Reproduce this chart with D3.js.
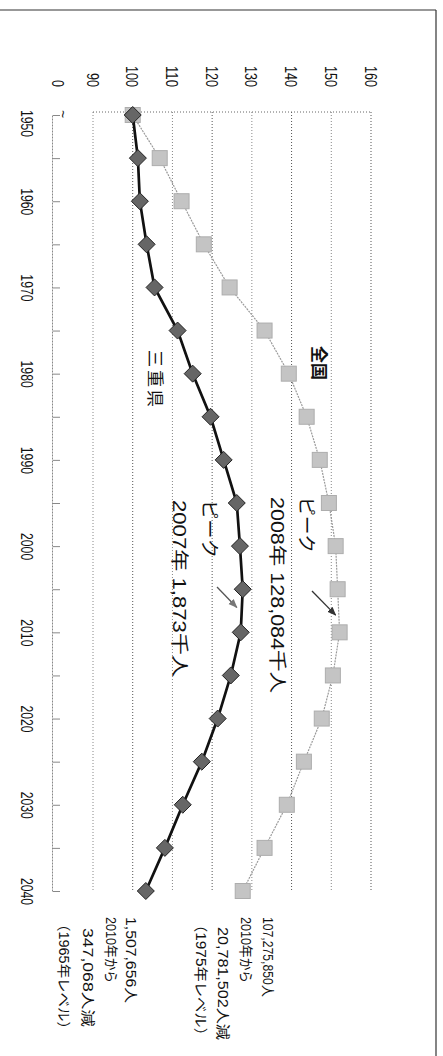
<!DOCTYPE html>
<html>
<head>
<meta charset="utf-8">
<script src="https://cdn.jsdelivr.net/npm/d3@7"></script>
<style>
body { margin: 0; background: #fff; }
text { font-family: "Liberation Sans", "Noto Sans CJK JP", sans-serif; fill: #111; }
</style>
</head>
<body>
<div id="chart"></div>
<script>
// population index (1950 = 100)
var years = [1950, 1955, 1960, 1965, 1970, 1975, 1980, 1985, 1990, 1995,
             2000, 2005, 2010, 2015, 2020, 2025, 2030, 2035, 2040];
var zenkoku = [100, 106.8, 112.3, 117.9, 124.4, 133.2, 139.3, 143.8, 147.1, 149.4,
               151.1, 151.6, 152.1, 150.4, 147.6, 143.1, 138.8, 133.2, 127.7];
var mie = [100, 101.3, 101.8, 103.5, 105.5, 111.3, 115.1, 119.6, 122.9, 126.2,
           127.0, 127.7, 127.2, 124.7, 121.4, 117.4, 112.6, 108.1, 103.3];

var valueTicks = [0, 90, 100, 110, 120, 130, 140, 150, 160];
var gridValues = [90, 100, 110, 120, 130, 140, 150, 160];
var yearTicks = [1950, 1960, 1970, 1980, 1990, 2000, 2010, 2020, 2030, 2040];

var zenkokuNotes = ["107,275,850人", "2010年から", "20,781,502人減", "（1975年レベル）"];
var mieNotes = ["1,507,656人", "2010年から", "347,068人減", "（1965年レベル）"];

// the picture is the chart turned a quarter turn clockwise,
// so draw it flat (W x H) and rotate the group
var svgWidth = 443, svgHeight = 1056;
var W = svgHeight, H = svgWidth;

var svg = d3.select("#chart").append("svg")
    .attr("width", svgWidth)
    .attr("height", svgHeight);

var g = svg.append("g")
    .attr("transform", `translate(${svgWidth},0) rotate(90)`);

var plotLeft = 112, plotRight = 891, axisY = 390;

var x = d3.scaleLinear().domain([1950, 2040]).range([115, 891]);
// broken value axis: 0 sits just under 90
var y = d3.scaleLinear().domain([0, 90, 160]).range([axisY, 350, 72]);

// narrow, tall glyphs like the scanned original
function squeeze(sel, perChar) {
    sel.attr("lengthAdjust", "spacingAndGlyphs")
        .attr("textLength", function() { return this.textContent.length * perChar; });
}

// outer frame
g.append("line").attr("x1", 10).attr("x2", 10).attr("y1", 7).attr("y2", H)
    .attr("stroke", "#333").attr("stroke-width", 1.2);
g.append("line").attr("x1", 10).attr("x2", W).attr("y1", 7).attr("y2", 7)
    .attr("stroke", "#333").attr("stroke-width", 1.2);

// gridlines
g.append("g").selectAll("line")
    .data(gridValues)
    .enter()
    .append("line")
    .attr("x1", plotLeft).attr("x2", plotRight)
    .attr("y1", d => y(d)).attr("y2", d => y(d))
    .attr("stroke", (d, i) => i % 2 ? "#555" : "#888")
    .attr("stroke-width", 1)
    .attr("stroke-dasharray", "1,2");

// value axis line
g.append("line")
    .attr("x1", plotLeft).attr("x2", plotLeft)
    .attr("y1", y(90)).attr("y2", y(160))
    .attr("stroke", "#666").attr("stroke-dasharray", "1,2");

// value tick labels
var yAxis = g.append("g")
    .attr("transform", `translate(${plotLeft},0)`)
    .call(d3.axisLeft(y).tickValues(valueTicks).tickSize(0).tickPadding(25));
yAxis.select(".domain").remove();
yAxis.selectAll("text")
    .style("font-size", "17px")
    .attr("dy", d => d === 0 ? "0.05em" : "0.35em")
    .call(squeeze, 7);

// category axis
var xAxis = g.append("g")
    .attr("transform", `translate(0,${axisY})`)
    .call(d3.axisBottom(x)
        .tickValues(years)
        .tickSizeInner(-7)
        .tickSizeOuter(0)
        .tickPadding(20)
        .tickFormat(d => yearTicks.indexOf(d) >= 0 ? d : ""));
xAxis.select(".domain")
    .attr("stroke", "#888").attr("stroke-dasharray", "2,1");
xAxis.selectAll(".tick line").attr("stroke", "#888");
xAxis.selectAll("text")
    .style("font-size", "17px")
    .attr("dx", d => d === 1950 ? 8 : 0)
    .filter(d => yearTicks.indexOf(d) >= 0)
    .call(squeeze, 6.8);

// axis break mark
g.append("text")
    .attr("x", plotLeft + 2).attr("y", 381)
    .attr("text-anchor", "middle")
    .attr("dominant-baseline", "middle")
    .style("font-size", "14px")
    .text("~");

var line = d3.line()
    .x((d, i) => x(years[i]))
    .y(d => y(d));

// 全国
g.append("path")
    .datum(zenkoku)
    .attr("d", line)
    .attr("fill", "none")
    .attr("stroke", "#9a9a9a")
    .attr("stroke-width", 1.2)
    .attr("stroke-dasharray", "2,1");

g.append("g").selectAll("rect")
    .data(zenkoku)
    .enter()
    .append("rect")
    .attr("x", (d, i) => x(years[i]) - 7.5)
    .attr("y", d => y(d) - 7.5)
    .attr("width", 15)
    .attr("height", 15)
    .attr("fill", "#c4c4c4")
    .attr("stroke", "#adadad");

// 三重県
g.append("path")
    .datum(mie)
    .attr("d", line)
    .attr("fill", "none")
    .attr("stroke", "#111")
    .attr("stroke-width", 2.7);

g.append("g").selectAll("path")
    .data(mie)
    .enter()
    .append("path")
    .attr("transform", (d, i) => `translate(${x(years[i])},${y(d)})`)
    .attr("d", "M0,-8.5L8.5,0L0,8.5L-8.5,0Z")
    .attr("fill", "#666")
    .attr("stroke", "#222")
    .attr("stroke-width", 1);

// labels
function label(text, u, v, size, opts) {
    opts = opts || {};
    var t = g.append("text")
        .attr("x", u).attr("y", v)
        .attr("dominant-baseline", "middle")
        .attr("text-anchor", opts.anchor || "start")
        .style("font-size", size + "px")
        .style("font-weight", opts.bold ? "bold" : "normal")
        .style("letter-spacing", opts.spacing || 0)
        .text(text);
    if (opts.length) {
        t.attr("textLength", opts.length).attr("lengthAdjust", "spacingAndGlyphs");
    }
    return t;
}

label("全国", 363, 126, 17, {anchor: "middle", bold: true});
label("三重県", 380, 290, 17, {anchor: "middle", spacing: "3px"});

label("ピーク", 497, 138, 18, {length: 56});
label("2008年 128,084千人", 497, 167, 18, {length: 196});
label("ピーク", 500, 235, 18, {length: 58});
label("2007年 1,873千人", 500, 265, 18, {length: 177});

// arrows to the peaks
var defs = svg.append("defs");
[["headDark", "#333"], ["headGray", "#777"]].forEach(function(m) {
    defs.append("marker")
        .attr("id", m[0])
        .attr("viewBox", "0 0 10 10")
        .attr("refX", 9).attr("refY", 5)
        .attr("markerWidth", 7).attr("markerHeight", 7)
        .attr("orient", "auto")
        .append("path")
        .attr("d", "M0,1L10,5L0,9Z")
        .attr("fill", m[1]);
});

g.append("line")
    .attr("x1", 591).attr("y1", 131)
    .attr("x2", x(2008)).attr("y2", y(152.1) + 4)
    .attr("stroke", "#333").attr("stroke-width", 1.3)
    .attr("marker-end", "url(#headDark)");

g.append("line")
    .attr("x1", 587).attr("y1", 226)
    .attr("x2", x(2007) + 1).attr("y2", y(126.2))
    .attr("stroke", "#555").attr("stroke-width", 1.3)
    .attr("marker-end", "url(#headGray)");

// end notes
var noteV1 = [176, 198, 221, 243];
var noteV2 = [313, 333, 356, 380];
var noteLen1 = [80, 66, 113, 126];
var noteLen2 = [86, 66, 99, 119];
zenkokuNotes.forEach(function(t, i) {
    label(t, i === 2 ? 927 : 917, noteV1[i], 14, {length: noteLen1[i]});
});
mieNotes.forEach(function(t, i) {
    label(t, i === 2 ? 928 : 917, noteV2[i], 14, {length: noteLen2[i]});
});
</script>
</body>
</html>
